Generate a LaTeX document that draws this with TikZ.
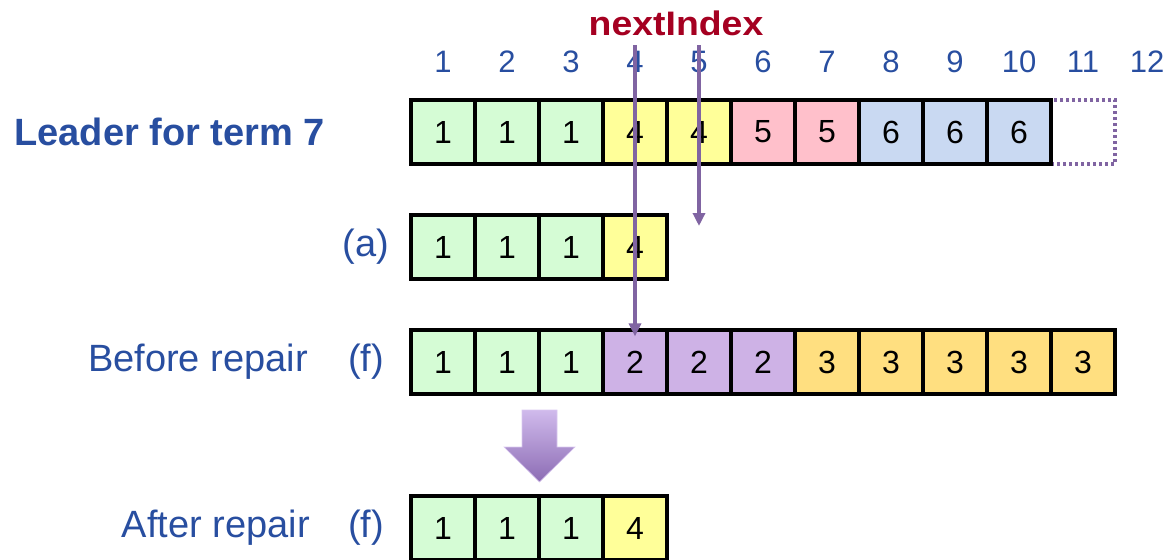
\documentclass[tikz,border=0pt]{standalone}
\usepackage{fontspec}
\setmainfont{Liberation Sans}
\usetikzlibrary{arrows.meta,calc}
\definecolor{cgreen}{RGB}{213,252,213}
\definecolor{cyellow}{RGB}{255,255,153}
\definecolor{cpink}{RGB}{255,192,203}
\definecolor{cblue}{RGB}{201,217,242}
\definecolor{cpurple}{RGB}{206,178,230}
\definecolor{cgold}{RGB}{255,223,128}
\definecolor{tblue}{RGB}{40,78,160}
\definecolor{tred}{RGB}{165,0,33}
\definecolor{apurple}{RGB}{128,100,162}
\definecolor{blight}{RGB}{208,186,236}
\definecolor{bdark}{RGB}{140,108,180}
\tikzset{
  cell/.style={draw=black, line width=3.2pt, minimum width=64pt, minimum height=64pt,
    inner sep=0pt, font=\fontsize{32}{32}\selectfont, text=black},
  hdr/.style={text=tblue, font=\fontsize{31}{31}\selectfont, inner sep=0pt},
  lbl/.style={text=tblue, font=\fontsize{38}{38}\selectfont, inner sep=0pt},
  ptr/.style={draw=apurple, line width=3.6pt, -{Triangle[width=12pt,length=13pt]}},
}
\begin{document}
\begin{tikzpicture}[x=1pt,y=-1pt]
\useasboundingbox (0,0) rectangle (1171,560);
% header numbers
\foreach \i in {1,...,12} {
  \node[hdr] (h\i) at ({443+64*(\i-1)},62) {\i};
}
\node[text=tred, font=\bfseries\fontsize{34}{34}\selectfont, inner sep=0pt, xscale=1.1] (ni) at (676,23) {nextIndex};
% leader row
\foreach \v [count=\i] in {1,1,1,4,4,5,5,6,6,6} {
  \ifnum\i<4 \def\c{cgreen}\else\ifnum\i<6 \def\c{cyellow}\else\ifnum\i<8 \def\c{cpink}\else\def\c{cblue}\fi\fi\fi
  \node[cell, fill=\c] (L\i) at ({443+64*(\i-1)},132) {\v};
}
\node[draw=apurple, line width=3.2pt, dash pattern=on 2.6pt off 3.4pt, minimum width=64pt, minimum height=64pt, inner sep=0pt] (L11) at (1083,132) {};
% redraw L10 border over dotted
\node[cell] at (L10) {};
\node[lbl, font=\bfseries\fontsize{38}{38}\selectfont, anchor=east] (lead) at (325,132) {Leader for term 7};
% row a
\foreach \v [count=\i] in {1,1,1,4} {
  \ifnum\i<4 \def\c{cgreen}\else\def\c{cyellow}\fi
  \node[cell, fill=\c] (A\i) at ({443+64*(\i-1)},247) {\v};
}
\node[lbl] (la) at (366,247) {(a)};
% row f before
\foreach \v [count=\i] in {1,1,1,2,2,2,3,3,3,3,3} {
  \ifnum\i<4 \def\c{cgreen}\else\ifnum\i<7 \def\c{cpurple}\else\def\c{cgold}\fi\fi
  \node[cell, fill=\c] (F\i) at ({443+64*(\i-1)},362) {\v};
}
\node[lbl] (lf) at (366,362) {(f)};
\node[lbl, anchor=east] (lbef) at (308,362) {Before repair};
% row f after
\foreach \v [count=\i] in {1,1,1,4} {
  \ifnum\i<4 \def\c{cgreen}\else\def\c{cyellow}\fi
  \node[cell, fill=\c] (R\i) at ({443+64*(\i-1)},528) {\v};
}
\node[lbl] (lf2) at (366,528) {(f)};
\node[lbl, anchor=east] (laft) at (310,528) {After repair};
% pointer arrows
\coordinate (p1s) at (635,45);
\coordinate (p2s) at (699,45);
\coordinate (p1e) at ([yshift=-8pt]F4.north);
\coordinate (p2e) at (699,226);
\draw[ptr] (p1s) -- (p1e);
\draw[ptr] (p2s) -- (p2e);
% block arrow
\shade[top color=blight, bottom color=bdark, draw=blight!80!white, line width=0.6pt]
  (522,410) -- (557,410) -- (557,447) -- (575,447) -- (539.5,482) -- (504,447) -- (522,447) -- cycle;
\end{tikzpicture}
\end{document}
